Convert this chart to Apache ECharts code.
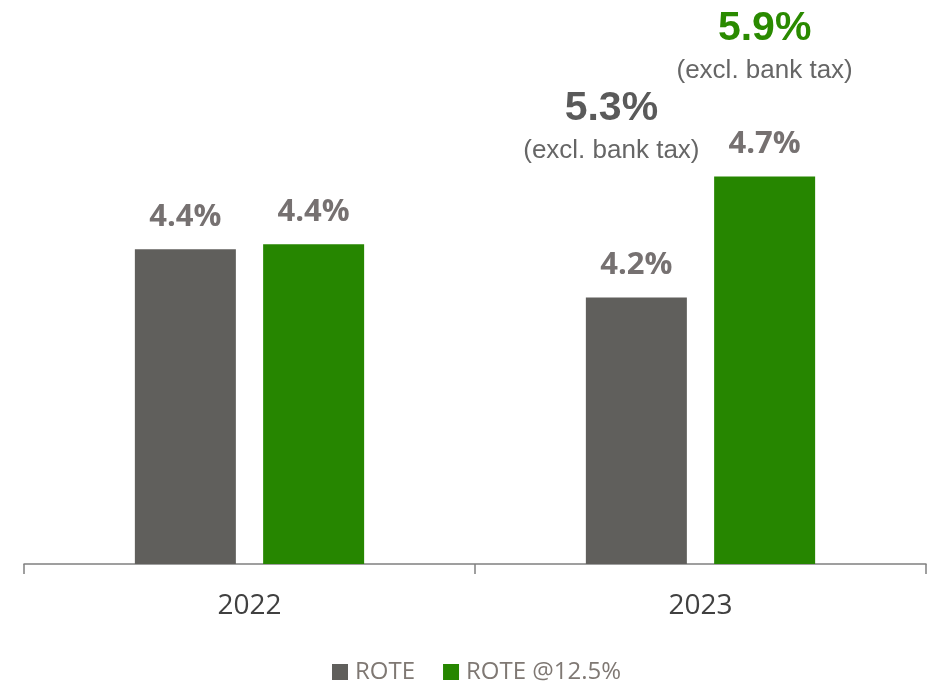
<!DOCTYPE html>
<html>
<head>
<meta charset="utf-8">
<script src="https://cdn.jsdelivr.net/npm/echarts@6/dist/echarts.min.js"></script>
<style>
  html, body { margin: 0; padding: 0; background: #ffffff; }
  #chart { width: 938px; height: 681px; }
</style>
</head>
<body>
<div id="chart"></div>
<script>
// ---- data ----
const categories = ['2022', '2023'];
const seriesNames = ['ROTE', 'ROTE @12.5%'];
const roteValues = [4.40, 4.20];
const rote125Values = [4.42, 4.70];
// "excl. bank tax" annotations (null = none)
const roteExclBankTax = [null, 5.3];
const rote125ExclBankTax = [null, 5.9];
const exclNote = '(excl. bank tax)';

const GRAY = '#605f5c';
const GREEN = '#268600';

const chart = echarts.init(document.getElementById('chart'), null, { renderer: 'canvas' });

function makeFormatter(annot, gapStyle, padStyle) {
  return function (p) {
    const v = p.value.toFixed(1) + '%';
    const a = annot[p.dataIndex];
    if (a == null) return '{val|' + v + '}';
    return '{' + padStyle + 'Big|' + a.toFixed(1) + '%}\n{' + padStyle + 'Excl|' + exclNote + '}\n{' + gapStyle + '| }\n{val|' + v + '}';
  };
}

const richCommon = {
  val: { fontFamily: 'Open Sans', fontWeight: 'bold', fontSize: 31, lineHeight: 36, color: '#767171' },
  gapR: { fontSize: 10, lineHeight: 79 },
  gapG: { fontSize: 10, lineHeight: 38 },
  shiftBig: { fontFamily: 'Liberation Sans', fontWeight: 'bold', fontSize: 41, lineHeight: 50, color: '#5a5a5a', padding: [0, 50, 0, 0] },
  shiftExcl: { fontFamily: 'Liberation Sans', fontSize: 26, lineHeight: 35, color: '#666666', padding: [0, 50, 0, 0] },
  midBig: { fontFamily: 'Liberation Sans', fontWeight: 'bold', fontSize: 41, lineHeight: 50, color: '#2a8a00' },
  midExcl: { fontFamily: 'Liberation Sans', fontSize: 26, lineHeight: 35, color: '#666666' }
};

const option = {
  backgroundColor: '#ffffff',
  animation: false,
  grid: { left: 24, right: 12, top: 7, bottom: 117, containLabel: false },
  legend: {
    data: seriesNames,
    left: 327,
    top: 655,
    icon: 'rect',
    itemWidth: 16,
    itemHeight: 16,
    itemGap: 28,
    textStyle: { fontFamily: 'Open Sans', fontSize: 24, lineHeight: 24, color: '#7f7873', padding: [0, 0, 0, 2] }
  },
  xAxis: {
    type: 'category',
    data: categories,
    boundaryGap: true,
    axisLine: { show: true, lineStyle: { color: '#808080', width: 1.5 } },
    axisTick: { show: true, length: 10, interval: 0, lineStyle: { color: '#808080', width: 1.5 } },
    axisLabel: { fontFamily: 'Open Sans', fontSize: 28, lineHeight: 28, color: '#404040', margin: 28 }
  },
  yAxis: {
    type: 'value',
    min: 3.1,
    max: 5.4,
    show: false,
    splitLine: { show: false }
  },
  series: [
    {
      name: seriesNames[0],
      type: 'bar',
      data: roteValues,
      barWidth: 101,
      barGap: '27%',
      itemStyle: { color: GRAY },
      label: {
        show: true, position: 'top', distance: 14,
        formatter: makeFormatter(roteExclBankTax, 'gapR', 'shift'),
        rich: richCommon
      }
    },
    {
      name: seriesNames[1],
      type: 'bar',
      data: rote125Values,
      barWidth: 101,
      barGap: '27%',
      itemStyle: { color: GREEN },
      label: {
        show: true, position: 'top', distance: 14,
        formatter: makeFormatter(rote125ExclBankTax, 'gapG', 'mid'),
        rich: richCommon
      }
    }
  ]
};
chart.setOption(option);
</script>
</body>
</html>
